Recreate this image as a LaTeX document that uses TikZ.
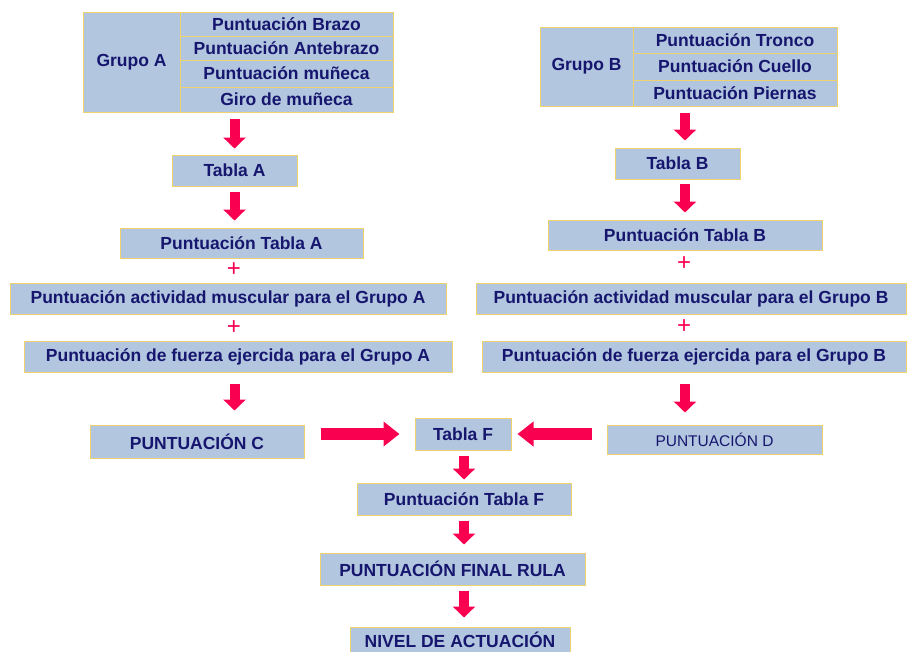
\documentclass[tikz,border=0pt]{standalone}
\usepackage{fontspec}
\setmainfont{Liberation Sans}
\usetikzlibrary{arrows.meta}
\definecolor{boxfill}{RGB}{178,198,224}
\definecolor{boxline}{RGB}{238,210,110}
\definecolor{navy}{RGB}{22,22,110}
\definecolor{arrowred}{RGB}{250,0,80}
\tikzset{
  cell/.style={draw=boxline, fill=boxfill, line width=1pt, inner sep=0pt,
    text=navy, font=\fontsize{17.5}{19}\selectfont\bfseries},
  blk/.style={arrowred, line width=10pt, -{Triangle[width=22pt,length=11pt]}},
  hblk/.style={arrowred, line width=12pt, -{Triangle[width=24pt,length=16pt]}},
  plus/.style={text=arrowred, font=\fontsize{24}{24}\selectfont, inner sep=0pt}
}
% \bx[opts]{name}{x1}{y1}{x2}{y2}{text}
\newcommand\bx[7][]{%
  \pgfmathsetmacro\cxx{(#3+#5)/2}\pgfmathsetmacro\cyy{(#4+#6)/2}%
  \pgfmathsetmacro\ww{#5-#3}\pgfmathsetmacro\hh{#6-#4}%
  \node[cell, minimum width=\ww pt, minimum height=\hh pt, #1] (#2) at (\cxx,\cyy) {#7};}
\begin{document}
\begin{tikzpicture}[x=1pt,y=-1pt]
\useasboundingbox (0,0) rectangle (907,651);
% Group A
\bx{gA}{83}{12}{180}{112}{Grupo A}
\bx{a1}{180}{12}{393}{36}{Puntuación Brazo}
\bx{a2}{180}{36}{393}{60}{Puntuación Antebrazo}
\bx{a3}{180}{60}{393}{87}{Puntuación muñeca}
\bx{a4}{180}{87}{393}{112}{Giro de muñeca}
% Group B
\bx{gB}{540}{27}{633}{106}{Grupo B}
\bx{b1}{633}{27}{837}{53}{Puntuación Tronco}
\bx{b2}{633}{53}{837}{80}{Puntuación Cuello}
\bx{b3}{633}{80}{837}{106}{Puntuación Piernas}
% left column
\bx{tA}{172}{155}{297}{186}{Tabla A}
\bx{pTA}{120}{228}{363}{258}{Puntuación Tabla A}
\node[plus] (plA1) at (234,270) {+};
\bx{actA}{10}{283}{446}{314}{Puntuación actividad muscular para el Grupo A}
\node[plus] (plA2) at (234,328) {+};
\bx{fzA}{24}{341}{452}{372}{Puntuación de fuerza ejercida para el Grupo A}
\bx{pC}{90}{425}{304}{458}{PUNTUACIÓN C}
% right column
\bx{tB}{615}{148}{740}{179}{Tabla B}
\bx{pTB}{548}{220}{822}{250}{Puntuación Tabla B}
\node[plus] (plB1) at (684,264) {+};
\bx{actB}{476}{283}{906}{314}{Puntuación actividad muscular para el Grupo B}
\node[plus] (plB2) at (684,327) {+};
\bx{fzB}{482}{341}{906}{372}{Puntuación de fuerza ejercida para el Grupo B}
\bx[font=\fontsize{15.5}{17}\selectfont]{pD}{607}{425}{822}{454}{PUNTUACIÓN D}
% centre
\bx{tF}{415}{418}{511}{450}{Tabla F}
\bx{pTF}{357}{483}{571}{515}{Puntuación Tabla F}
\bx{fin}{320}{553}{585}{585}{PUNTUACIÓN FINAL RULA}
\bx{niv}{350}{627}{570}{653}{NIVEL DE ACTUACIÓN}
% arrows
\draw[blk, shorten <=6pt, shorten >=6pt] (a4.south -| tA.north) -- (tA.north);
\draw[blk, shorten <=5pt, shorten >=7pt] (tA.south) -- (tA.south |- pTA.north);
\draw[blk, shorten <=11pt, shorten >=14pt] (fzA.south -| tA.south) -- (tA.south |- pC.north);
\draw[blk, shorten <=6pt, shorten >=7pt] (b3.south -| pTB.north) -- (tB.north -| pTB.north);
\draw[blk, shorten <=4pt, shorten >=7pt] (tB.south -| pTB.north) -- (pTB.north);
\draw[blk, shorten <=11pt, shorten >=12pt] (fzB.south -| pTB.north) -- (pTB.north |- pD.north);
\draw[hblk, shorten <=16pt, shorten >=15pt] (pC.east |- tF.west) -- (tF.west);
\draw[hblk, shorten <=15pt, shorten >=6pt] (pD.west |- tF.east) -- (tF.east);
\draw[blk, shorten <=5pt, shorten >=3pt] (tF.south -| pTF.north) -- (pTF.north);
\draw[blk, shorten <=5pt, shorten >=8pt] (pTF.south) -- (fin.north -| pTF.south);
\draw[blk, shorten <=5pt, shorten >=9pt] (fin.south -| pTF.south) -- (niv.north -| pTF.south);
\end{tikzpicture}
\end{document}
